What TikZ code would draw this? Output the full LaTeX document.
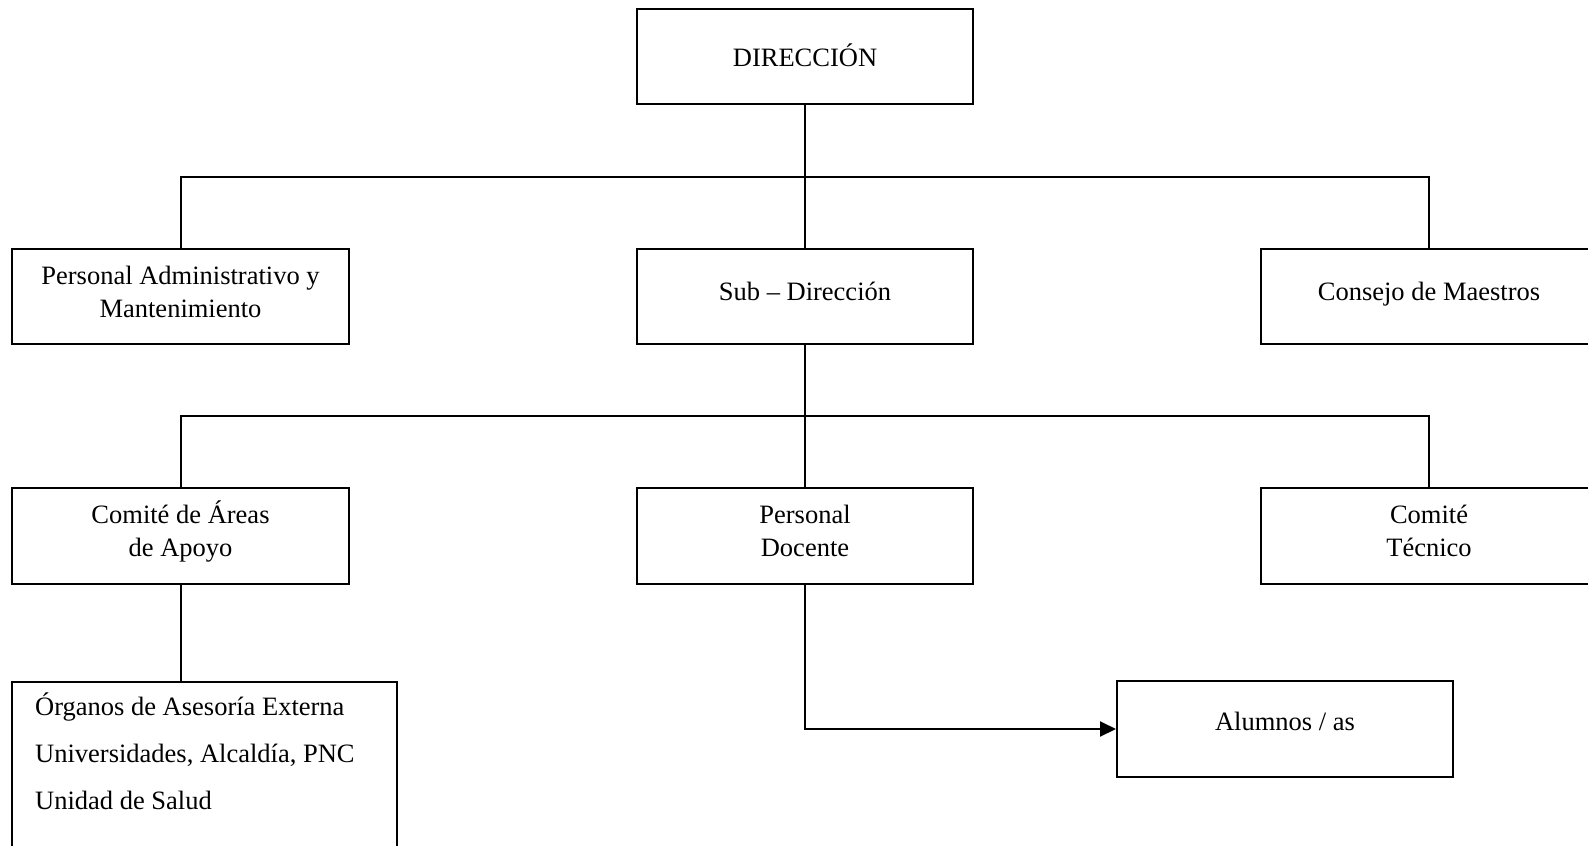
\documentclass[tikz,border=0pt]{standalone}
\usepackage{fontspec}
\setmainfont{Liberation Serif}
\usetikzlibrary{arrows.meta}
\begin{document}
\begin{tikzpicture}[x=1pt,y=-1pt,
  box/.style={draw=black, line width=2pt, rectangle, inner sep=0pt, minimum width=336pt, minimum height=95pt},
  txt/.style={font=\fontsize{26.5}{30}\selectfont, inner sep=0pt, anchor=base},
  ltxt/.style={txt, anchor=base west},
  conn/.style={draw=black, line width=2pt}]
\useasboundingbox (0,0) rectangle (1588,846);
\fill[white] (0,0) rectangle (1588,846);
\clip (0,0) rectangle (1588,846);
% boxes
\node[box] (dir) at (805,56.5) {};
\node[box, minimum width=337pt] (pa) at (180.5,296.5) {};
\node[box] (sub) at (805,296.5) {};
\node[box] (cm) at (1429,296.5) {};
\node[box, minimum width=337pt, minimum height=96pt] (ca) at (180.5,536) {};
\node[box, minimum height=96pt] (pd) at (805,536) {};
\node[box, minimum height=96pt] (ct) at (1429,536) {};
\node[box, minimum width=385pt, minimum height=268pt] (org) at (204.5,816) {};
\node[box, minimum height=96pt] (alu) at (1285,729) {};
% texts
\node[txt] (tdir) at (805,66.5) {DIRECCIÓN};
\node[txt] (tpa1) at (180.5,284.5) {Personal Administrativo y};
\node[txt] (tpa2) at (180.5,317) {Mantenimiento};
\node[txt] (tsub) at (805,300.5) {Sub – Dirección};
\node[txt] (tcm) at (1429,300.5) {Consejo de Maestros};
\node[txt] (tca1) at (180.5,523.5) {Comité de Áreas};
\node[txt] (tca2) at (180.5,556) {de Apoyo};
\node[txt] (tpd1) at (805,523.5) {Personal};
\node[txt] (tpd2) at (805,556) {Docente};
\node[txt] (tct1) at (1429,523.5) {Comité};
\node[txt] (tct2) at (1429,556) {Técnico};
\node[txt] (talu) at (1285,730) {Alumnos / as};
\node[ltxt] (tor1) at (35,715.5) {Órganos de Asesoría Externa};
\node[ltxt] (tor2) at (35,762.5) {Universidades, Alcaldía, PNC};
\node[ltxt] (tor3) at (35,809) {Unidad de Salud};
% connectors
\coordinate (j1) at (805,177);
\coordinate (j2) at (805,416);
\draw[conn] (dir.south) -- (sub.north);
\draw[conn] (pa.north) -- (pa.north |- j1) -- (cm.north |- j1) -- (cm.north);
\draw[conn] (sub.south) -- (pd.north);
\draw[conn] (ca.north) -- (ca.north |- j2) -- (ct.north |- j2) -- (ct.north);
\draw[conn] (ca.south) -- (ca.south |- org.north);
\draw[conn, -{Triangle[length=16pt,width=15pt]}] (pd.south) |- (alu.west);
\end{tikzpicture}
\end{document}
